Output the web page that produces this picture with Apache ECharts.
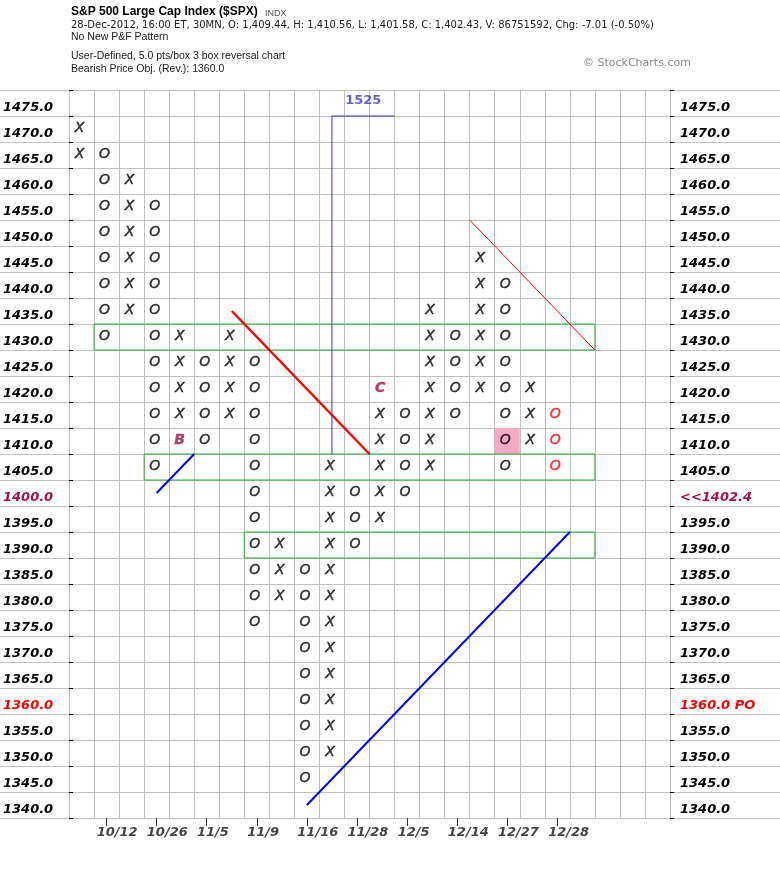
<!DOCTYPE html>
<html>
<head>
<meta charset="utf-8">
<script src="https://cdn.jsdelivr.net/npm/echarts/dist/echarts.min.js"></script>
<style>
  html, body { margin: 0; padding: 0; background: #fff; }
  #chart { width: 780px; height: 896px; }
</style>
</head>
<body>
<div id="chart"></div>
<script>
// P&F columns, left to right (5 pts/box, 3 box reversal)
const colKind = ['X','O','X','O','X','O','X','O','X','O','X','O','X','O','X','O','X','O','X','O'];
const colLow  = [1465,1430,1435,1405,1410,1410,1415,1375,1380,1345,1350,1390,1395,1400,1405,1415,1420,1405,1410,1405];
const colHigh = [1470,1465,1460,1455,1430,1425,1430,1425,1390,1385,1405,1400,1420,1415,1435,1430,1445,1440,1420,1415];
const currentCol = 19;

// month markers replacing a box
const markCols = [4, 12];
const markPrices = [1410, 1420];
const markTexts = ['B', 'C'];

// date labels under the columns
const dateCols = [1, 3, 5, 7, 9, 11, 13, 15, 17, 19];
const dateLabels = ['10/12','10/26','11/5','11/9','11/16','11/28','12/5','12/14','12/27','12/28'];
const numCols = 24;

// price rows
const priceTicks = [1340,1345,1350,1355,1360,1365,1370,1375,1380,1385,1390,1395,1400,1405,
                    1410,1415,1420,1425,1430,1435,1440,1445,1450,1455,1460,1465,1470,1475];

// highlighted box, support/resistance boxes [colFrom, colTo, price]
const pinkBox = [17, 1410];
const boxRows = [[1, 20, 1430], [3, 20, 1405], [7, 20, 1390]];

// trend lines [[col, price], [col, price]]
const redTrend = [[6, 1435], [11.5, 1407.5]];
const redThin = [[15.5, 1452.5], [20.5, 1427.5]];
const blueShort = [[3, 1400], [4.5, 1407.5]];
const blueTrend = [[9, 1340], [19.5, 1392.5]];
const countLine = [[10, 1407.5], [10, 1472.5], [12.5, 1472.5]];
const countTarget = '1525';

const chart = echarts.init(document.getElementById('chart'));

const boxes = [];
colKind.forEach((k, i) => {
  for (let p = colLow[i]; p <= colHigh[i]; p += 5) {
    let txt = k, color = i === currentCol ? '#ff0000' : '#000';
    let bold = 'normal';
    markCols.forEach((c, j) => {
      if (c === i && markPrices[j] === p) { txt = markTexts[j]; color = '#a3104a'; bold = 'bold'; }
    });
    boxes.push({ value: [i, p], label: { formatter: txt, color: color, fontWeight: bold, textBorderColor: color } });
  }
});

const dateCats = [];
for (let i = 0; i < numCols; i++) {
  const j = dateCols.indexOf(i);
  dateCats.push(j >= 0 ? dateLabels[j] : '');
}
const priceCats = priceTicks.map(p => p.toFixed(1));

const axisFont = { fontFamily: 'DejaVu Sans', fontWeight: 'bold', fontStyle: 'italic', fontSize: 13 };

const leftFmt = v => v === '1400.0' ? '{m|' + v + '}' : v === '1360.0' ? '{r|' + v + '}' : '{n|' + v + '}';
const rightFmt = v => v === '1400.0' ? '{m|<<1402.4}' : v === '1360.0' ? '{r|1360.0 PO}' : '{n|' + v + '}';
const richStyles = {
  n: Object.assign({ color: '#000' }, axisFont),
  m: Object.assign({ color: '#a3104a' }, axisFont),
  r: Object.assign({ color: '#ff0000' }, axisFont)
};

const hi = 2.5;
const markAreas = [
  [{ coord: [pinkBox[0] - 0.5, pinkBox[1] - hi], itemStyle: { color: '#f6aac6', borderWidth: 0 } },
   { coord: [pinkBox[0] + 0.5, pinkBox[1] + hi] }]
].concat(boxRows.map(b => [
  { coord: [b[0] - 0.5, b[2] - hi], itemStyle: { color: 'rgba(0,0,0,0)', borderColor: '#2faa3e', borderWidth: 1 } },
  { coord: [b[1] + 0.5, b[2] + hi] }
]));

const trendSeries = (data, color, width) => ({
  type: 'line', xAxisIndex: 0, yAxisIndex: 0, data: data, symbol: 'none', silent: true, z: 4,
  lineStyle: { color: color, width: width }
});

const infoFont = '10.5px "Liberation Sans"';

chart.setOption({
  animation: false,
  backgroundColor: '#fff',
  graphic: [
    { type: 'text', left: 71, top: 6, style: { text: 'S&P 500 Large Cap Index ($SPX)', font: 'bold 12px "Liberation Sans"', fill: '#000' } },
    { type: 'text', left: 265, top: 9, style: { text: 'INDX', font: '9px "Liberation Sans"', fill: '#555' } },
    { type: 'text', left: 71, top: 20, style: { text: '28-Dec-2012, 16:00 ET, 30MN, O: 1,409.44, H: 1,410.56, L: 1,401.58, C: 1,402.43, V: 86751592, Chg: -7.01 (-0.50%)', font: '10px "DejaVu Sans"', fill: '#222' } },
    { type: 'text', left: 71, top: 32, style: { text: 'No New P&F Pattern', font: infoFont, fill: '#222' } },
    { type: 'text', left: 71, top: 51, style: { text: 'User-Defined, 5.0 pts/box 3 box reversal chart', font: infoFont, fill: '#222' } },
    { type: 'text', left: 71, top: 64, style: { text: 'Bearish Price Obj. (Rev.): 1360.0', font: infoFont, fill: '#222' } },
    { type: 'text', left: 583, top: 58, style: { text: '\u00A9 StockCharts.com', font: '11px "DejaVu Sans"', fill: '#8a8a8a' } }
  ],
  grid: [
    { left: 68, right: 110, top: 90, bottom: 78 },
    { left: 0, right: 0, top: 90, bottom: 78 },
    { left: 59, right: 119, top: 90, bottom: 78 }
  ],
  xAxis: [
    { type: 'value', gridIndex: 0, min: -0.5, max: numCols - 0.5, show: false },
    { type: 'category', gridIndex: 0, data: dateCats, position: 'bottom',
      axisLine: { show: false },
      axisTick: { show: true, alignWithLabel: true, length: 8, interval: (idx) => dateCats[idx] !== '', lineStyle: { color: '#333' } },
      axisLabel: { show: false },
      splitLine: { show: true, interval: 0, lineStyle: { color: '#c0c0c0', width: 1 } } },
    { type: 'value', gridIndex: 1, min: 0, max: 1, show: false },
    { type: 'category', gridIndex: 2, data: dateCats, position: 'bottom',
      axisLine: { show: false }, axisTick: { show: false }, splitLine: { show: false },
      axisLabel: Object.assign({ interval: 0, align: 'left', margin: 8, color: '#444' }, axisFont) }
  ],
  yAxis: [
    { type: 'value', gridIndex: 0, min: 1337.5, max: 1477.5, show: false },
    { type: 'category', gridIndex: 0, data: priceCats, position: 'left',
      axisLine: { show: false },
      axisTick: { show: true, inside: true, length: 4, lineStyle: { color: '#000' } },
      axisLabel: Object.assign({ interval: 0, align: 'left', margin: 66, padding: [9, 0, 0, 0], formatter: leftFmt, rich: richStyles }, axisFont),
      splitLine: { show: false } },
    { type: 'category', gridIndex: 0, data: priceCats, position: 'right',
      axisLine: { show: false },
      axisTick: { show: true, inside: false, length: 4, lineStyle: { color: '#000' } },
      axisLabel: Object.assign({ interval: 0, align: 'left', margin: 10, padding: [9, 0, 0, 0], formatter: rightFmt, rich: richStyles }, axisFont),
      splitLine: { show: false } },
    { type: 'category', gridIndex: 1, data: priceCats,
      axisLine: { show: false }, axisTick: { show: false }, axisLabel: { show: false },
      splitLine: { show: true, interval: 0, lineStyle: { color: '#c0c0c0', width: 1 } } },
    { type: 'value', gridIndex: 2, min: 0, max: 1, show: false }
  ],
  series: [
    { type: 'line', xAxisIndex: 0, yAxisIndex: 0, data: [], silent: true, z: 1,
      markArea: { silent: true, data: markAreas } },
    { type: 'scatter', xAxisIndex: 0, yAxisIndex: 0, data: boxes, silent: true, z: 5,
      symbol: 'circle', symbolSize: 1, itemStyle: { color: 'rgba(0,0,0,0)' },
      label: { show: true, position: 'inside', offset: [-2, -1], fontFamily: 'DejaVu Sans', fontStyle: 'italic', fontSize: 14, textBorderWidth: 0.4 } },
    trendSeries(redTrend, '#ff0000', 2.5),
    trendSeries(redThin, '#ff0000', 1),
    trendSeries(blueShort, '#0000ff', 2),
    trendSeries(blueTrend, '#0000ff', 2),
    trendSeries(countLine, '#3232c8', 1),
    { type: 'scatter', xAxisIndex: 0, yAxisIndex: 0, silent: true, z: 5,
      data: [[11.25, 1475.5]], symbolSize: 1, itemStyle: { color: 'rgba(0,0,0,0)' },
      label: { show: true, position: 'inside', formatter: countTarget, color: '#3c3cd0', fontFamily: 'DejaVu Sans', fontWeight: 'bold', fontSize: 13 } }
  ]
});
</script>
</body>
</html>
